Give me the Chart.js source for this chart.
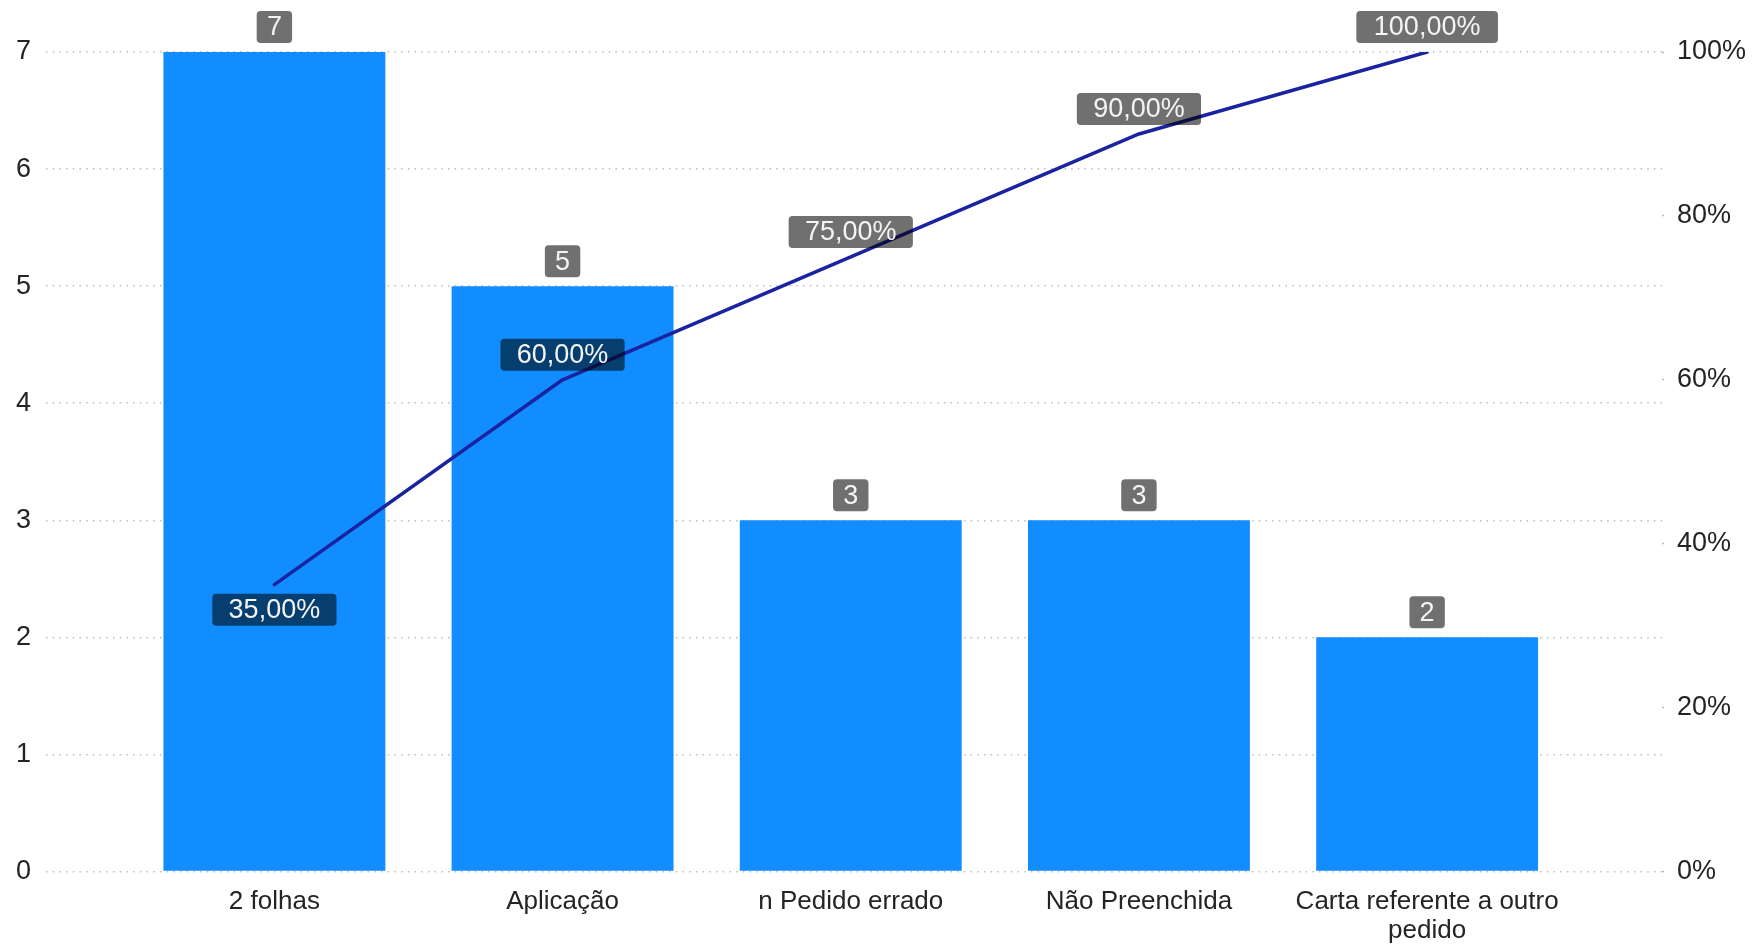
<!DOCTYPE html>
<html lang="pt-BR">
<head>
<meta charset="utf-8">
<title>Pareto de ocorrências</title>
<script src="https://cdn.jsdelivr.net/npm/chart.js@4.4.1/dist/chart.umd.min.js"></script>
<style>
  html, body { margin: 0; padding: 0; background: #ffffff; }
  #wrap { width: 1752px; height: 945px; position: relative; }
</style>
</head>
<body>
<div id="wrap"><canvas id="pareto"></canvas></div>
<script>
// Occurrence categories, counts and cumulative share
const categories = ['2 folhas', 'Aplicação', 'n Pedido errado', 'Não Preenchida', 'Carta referente a outro pedido'];
const counts = [7, 5, 3, 3, 2];
const cumulativePct = [35, 60, 75, 90, 100];

// Axis tick values
const countTicks = [0, 1, 2, 3, 4, 5, 6, 7];
const pctTicks = [0, 20, 40, 60, 80, 100];

const FONT = '"Liberation Sans", Arial, Helvetica, sans-serif';
const TEXT = '#252423';
Chart.defaults.font.family = FONT;

// Break a category name into lines of at most maxChars characters
function wrapLabel(text, maxChars) {
  const lines = [];
  let line = '';
  text.split(' ').forEach(w => {
    const next = line ? line + ' ' + w : w;
    if (next.length > maxChars && line) { lines.push(line); line = w; }
    else line = next;
  });
  if (line) lines.push(line);
  return lines.length > 1 ? lines : lines[0];
}

function roundRect(ctx, x, y, w, h, r) {
  ctx.beginPath();
  ctx.moveTo(x + r, y);
  ctx.lineTo(x + w - r, y);
  ctx.arcTo(x + w, y, x + w, y + r, r);
  ctx.lineTo(x + w, y + h - r);
  ctx.arcTo(x + w, y + h, x + w - r, y + h, r);
  ctx.lineTo(x + r, y + h);
  ctx.arcTo(x, y + h, x, y + h - r, r);
  ctx.lineTo(x, y + r);
  ctx.arcTo(x, y, x + r, y, r);
  ctx.closePath();
}

// Data labels in translucent dark boxes, placed from each element's position
const valueBoxes = {
  id: 'valueBoxes',
  afterDatasetsDraw(chart, args, opts) {
    const ctx = chart.ctx;
    ctx.save();
    ctx.font = opts.size + 'px ' + FONT;
    ctx.textAlign = 'center';
    ctx.textBaseline = 'middle';
    chart.data.datasets.forEach((ds, di) => {
      const meta = chart.getDatasetMeta(di);
      meta.data.forEach((el, i) => {
        const text = ds.labelText(ds.data[i].y);
        const tw = ctx.measureText(text).width;
        const padX = 9 + 0.08 * tw;
        const w = tw + 2 * padX;
        const h = opts.size + 5;
        const below = ds.labelBelow && ds.labelBelow[i];
        const top = below ? el.y + opts.gap : el.y - opts.gap - h;
        const left = el.x - w / 2;
        ctx.fillStyle = 'rgba(0,0,0,0.56)';
        roundRect(ctx, left, top, w, h, 4);
        ctx.fill();
        ctx.fillStyle = '#f4f4f4';
        ctx.fillText(text, el.x, top + h / 2 + 1);
      });
    });
    ctx.restore();
  }
};

const fmtPct = v => v.toFixed(2).replace('.', ',') + '%';

new Chart(document.getElementById('pareto'), {
  type: 'bar',
  data: {
    datasets: [
      {
        type: 'line',
        order: 0,
        yAxisID: 'y1',
        data: cumulativePct.map((v, i) => ({ x: i, y: v })),
        borderColor: '#1a23a0',
        borderWidth: 3.5,
        pointRadius: 0,
        tension: 0,
        borderJoinStyle: 'round',
        borderCapStyle: 'round',
        labelText: fmtPct,
        labelBelow: [true, false, false, false, false]
      },
      {
        type: 'bar',
        order: 1,
        yAxisID: 'y',
        data: counts.map((v, i) => ({ x: i, y: v })),
        backgroundColor: '#118DFF',
        categoryPercentage: 1,
        barPercentage: 0.77,
        labelText: v => String(v)
      }
    ]
  },
  options: {
    responsive: true,
    maintainAspectRatio: false,
    animation: false,
    layout: { padding: { left: 0, right: 0, top: 52, bottom: 0 } },
    plugins: {
      legend: { display: false },
      tooltip: { enabled: false },
      valueBoxes: { size: 27, gap: 9 }
    },
    scales: {
      x: {
        type: 'linear',
        offset: false,
        min: -0.7925,
        max: 4.815,
        grid: { display: false, drawTicks: false },
        border: { display: false },
        afterBuildTicks: s => { s.ticks = categories.map((_, i) => ({ value: i })); },
        afterFit: s => { s.height = 73.5; },
        ticks: {
          autoSkip: false,
          maxRotation: 0,
          minRotation: 0,
          padding: 16.5,
          color: TEXT,
          font: { size: 26, lineHeight: 1.1 },
          callback: v => (Number.isInteger(v) && categories[v] !== undefined) ? wrapLabel(categories[v], 23) : ''
        }
      },
      y: {
        position: 'left',
        min: 0,
        max: 7,
        afterBuildTicks: s => { s.ticks = countTicks.map(v => ({ value: v })); },
        afterFit: s => { s.width = 46; },
        grid: { color: '#bdbdbd', lineWidth: 1.5, drawTicks: false },
        border: { display: false, dash: [1.5, 5.2] },
        ticks: { padding: 15, color: TEXT, font: { size: 27 } }
      },
      y1: {
        position: 'right',
        min: 0,
        max: 100,
        afterBuildTicks: s => { s.ticks = pctTicks.map(v => ({ value: v })); },
        afterFit: s => { s.width = 90; },
        grid: { drawOnChartArea: false, drawTicks: true, tickLength: 2, tickColor: '#bdbdbd', tickWidth: 1.5 },
        border: { display: false },
        ticks: { padding: 13, color: TEXT, font: { size: 27 }, callback: v => v + '%' }
      }
    }
  },
  plugins: [valueBoxes]
});
</script>
</body>
</html>
